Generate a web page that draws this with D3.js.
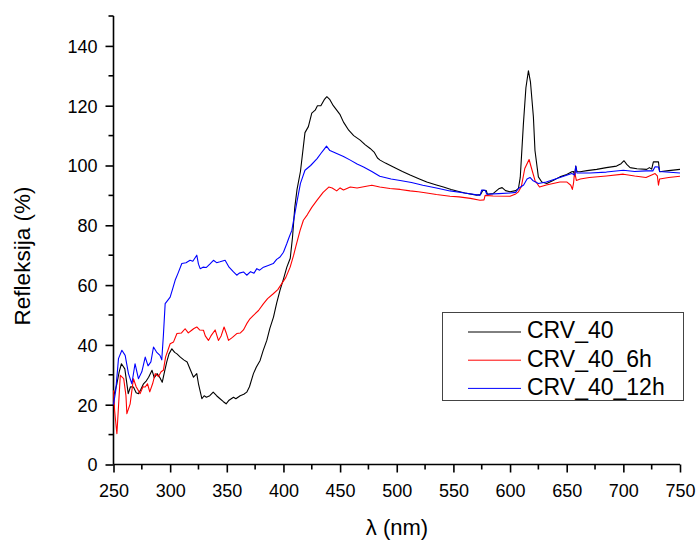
<!DOCTYPE html>
<html><head><meta charset="utf-8">
<script src="https://cdn.jsdelivr.net/npm/d3@7"></script>
<style>body{margin:0;background:#fff}svg{display:block}text{font-family:"Liberation Sans",Arial,sans-serif}</style>
</head><body><svg id="c" width="697" height="541"></svg>
<script>
const seriesNames = ["CRV_40","CRV_40_6h","CRV_40_12h"];
const seriesColors = ["#000000","#ff0000","#0000ff"];
const xTicks = [250,300,350,400,450,500,550,600,650,700,750];
const yTicks = [0,20,40,60,80,100,120,140];

const blackWl = [250,253,255,257,260,263,265,267.6,270,272,274,276.5,279,281,284,286,288.5,291,293,295,297,299,301.5,304,306,309,312,315,318,320.6,323.5,325,328,330,332,335,338,341,344,347,349.4,352,355.9,358,361.8,365,367.6,370,373.5,376,379.4,382,385.3,388,391.2,394,397,400,403,406,408,410,412,415,419,422,425,428,430,433,436,438.3,441,444,447,450,453,457.6,462,467.7,472,476.5,480,483,485.3,490,497,505,511.8,520,526.5,535,541.2,548,553,560,570.6,574,576,579,580,585,590,593,596,600,605,607.4,609,611.8,614,616.2,618,620.6,622,625,628,632.4,638,644,650,654.5,656,657,658,659,661.8,668,676.5,685,694,698,700.6,703,706,712,720.6,723,725,726.5,731,732,740,750];
const blackVal = [22.5,27,31,33.7,32,23.7,26,25.9,24,23.7,25,27,28,29.2,31.5,29,30.4,29,27.5,31,34.3,37,38.7,37.5,37,35.9,35,34.3,31.5,29.2,30.4,27,22,23,22.5,23,24.2,23,22,21,20.3,21.5,22.5,22,23,23.5,24.2,26,30.4,32.5,34.8,38,41.5,45.5,49.3,54,58.3,62,66,69,76,86,92,98,111,113,117.5,118.5,120,120,122,123,122,120,118.5,117,114.5,111.8,110,108.5,107,105.7,104.5,102.5,101.8,100.8,99.5,98,96.8,95.5,94.5,93.5,92.8,92,91.5,90.8,90.1,90.3,91.7,91.6,90.4,90.6,92.2,92.6,91.6,91.2,91.6,92.3,96,114,126,131.7,128,116.3,105,96.2,94.5,94,95,96.2,97,97.9,98,96.5,99.8,98,97.9,98.3,98.7,99.3,99.8,100.6,101.6,100.4,99.3,98.9,98.7,99.3,98.8,101.2,101.2,97.9,98.3,98.7];

const redWl = [250,251,252.4,253,254.5,256,259,261,261.8,264.7,267.6,270,273.5,276,278,280,282,284.5,286.8,289.7,292,294,296,300,303,306,310,313.2,316,319,321,323.5,326,329.4,331,333.8,336,339.7,342.6,345,347.6,349.5,351.5,355,358.8,362,364.7,367.6,370,373.5,378,382.4,386,391,395,398.5,402,405.9,409,411,414.7,417.6,421,425,429.7,435,440,443,447,450,453,459,465,472,478,485,494,503,511.8,519,526.5,535,547,555,565,573.5,577,578,585,600,605,607.4,610,613,616.8,619,622,626,632,644,650,653.6,655,656,657,658.5,662,670,685,700,710,720,728,730,731,732,740,750];
const redVal = [24.8,18,12.5,10.3,20,29.8,28.7,23,17,20.3,28.7,26,23.7,26,25.9,27,24.3,27,30.4,29.4,31,31.5,36,40.4,41,43.8,44,45.4,44,44.9,45.5,46,45,44.9,43,41.5,43,45,41.5,43,46,44,41.5,42.5,43.8,44,45,47.1,48.5,49.9,51.5,53.8,55.5,57.1,58.5,60.5,62.5,66,70,73,78.3,81.7,83.5,86,88.4,91,92.8,92.5,91.5,92.5,91.8,92.8,92.5,93,93.4,92.8,92.3,92,91.5,91.2,90.8,90.3,89.7,89.5,89,88.4,88.5,90,89.8,89.7,90.5,91.2,93,99,102,99,95,92.8,93.5,94.5,94.5,93.4,92,94,97.9,95,95.5,96,96.5,97.1,96.5,96,97.3,96.5,93.4,95.5,96,96.4];

const blueWl = [250,252,254.4,257.4,260.3,263.2,266.2,269,272,275,278,280.5,283,285.3,288,291,292.6,294,295.6,298,300,302,304.4,307,310.3,314,317.6,320,323.5,325,326.5,329,332,335,338.2,341,344,348.5,352,355.9,358.8,361,364.7,367.6,371,374,376.5,379,382.4,386,391,394,397,400,403,405,407.4,409,412,415,419,424,429.7,433,436,438,441,444,447,453,459,465,470.7,478,485,495,503,513,523,535,547,560,573.5,575,578,579.5,590,600,605,607.4,612,615,617.6,620,625,632,644,654.5,657,658,659,670.6,685,700,710,720,726,728,731,732,750];
const blueVal = [20,24.8,35.4,38.2,36.5,30.4,27,33.7,28.7,31,35.9,33,34.3,39.3,37.6,36.5,35,43,53.8,55,56,58.5,61.6,64,67.2,67.5,68.3,68,70,67,65.5,66,65.9,67,68.3,67.5,67.8,68.3,66,64.4,63.3,64,64.4,63.3,64.5,64,65.5,65,66,66.5,67.2,68.6,69.4,71,73.9,76,78.3,81.7,88,94,98.4,100,102.3,104,105.5,106.5,105,104.5,104,103,101.8,100.5,99.5,98,96.4,95.5,95,94.3,93.4,92.5,91.5,90.8,90,91.8,91.7,90.4,90.6,90.8,91,92.3,93.5,95.5,96,95,94,94.5,96,97.3,96.8,99.8,97.5,97.5,97.8,98.4,98,98.2,98.2,99.6,99.5,98,97.5];

const svg = d3.select("#c");
const x = d3.scaleLinear().domain([250,750]).range([113.5,680]);
const y = d3.scaleLinear().domain([0,150]).range([464.5,16]);

const xMinor = d3.range(275,750,50);
const yMinor = d3.range(10,151,20);
const FONT = "Liberation Sans, Arial, sans-serif";

const gx = svg.append("g").attr("transform","translate(0,464.5)");
gx.call(d3.axisBottom(x).tickValues(xTicks).tickSize(8).tickFormat(d3.format("d")));
gx.append("g").selectAll("line").data(xMinor).join("line")
  .attr("x1",d=>x(d)).attr("x2",d=>x(d)).attr("y1",0).attr("y2",5).attr("stroke","#000").attr("stroke-width",1.6);
gx.select(".domain").attr("d",`M${x(250)},0H${x(750)}`);

const gy = svg.append("g").attr("transform","translate(113.5,0)");
gy.call(d3.axisLeft(y).tickValues(yTicks).tickSize(8).tickFormat(d3.format("d")));
gy.append("g").selectAll("line").data(yMinor).join("line")
  .attr("y1",d=>y(d)).attr("y2",d=>y(d)).attr("x1",0).attr("x2",-5).attr("stroke","#000").attr("stroke-width",1.6);
gy.select(".domain").attr("d",`M0,${y(0)}V${y(150)}`);

svg.selectAll(".domain").attr("stroke","#000").attr("stroke-width",1.6);
svg.selectAll(".tick line").attr("stroke","#000").attr("stroke-width",1.6);
gx.selectAll(".tick text").attr("font-size",18).attr("fill","#000").attr("y",32.5).attr("dy",0).attr("font-family",FONT);
gy.selectAll(".tick text").attr("font-size",18).attr("fill","#000").attr("x",-16).attr("dy","0.35em").attr("font-family",FONT);

const line = d3.line().x(d=>x(d[0])).y(d=>y(d[1]));
const data = [
  {wl:blackWl, v:blackVal},
  {wl:redWl, v:redVal},
  {wl:blueWl, v:blueVal}
];
[0,1,2].forEach(i=>{
  const pts = data[i].wl.map((w,k)=>[w,data[i].v[k]]);
  svg.append("path").datum(pts).attr("d",line).attr("fill","none")
    .attr("stroke",seriesColors[i]).attr("stroke-width",1.1).attr("stroke-linejoin","round");
});

// axis titles
svg.append("text").attr("x",397).attr("y",535).attr("text-anchor","middle").attr("font-size",22).text("λ (nm)");
svg.append("text").attr("transform","translate(30,256) rotate(-90)").attr("text-anchor","middle").attr("font-size",22.5).text("Refleksija (%)");

// legend
const lg = svg.append("g");
lg.append("rect").attr("x",442.5).attr("y",312.5).attr("width",241).attr("height",88)
  .attr("fill","#fff").attr("stroke","#444").attr("stroke-width",1);
seriesNames.forEach((n,i)=>{
  const yy = 332 + i*28.2;
  lg.append("line").attr("x1",468).attr("x2",521).attr("y1",yy).attr("y2",yy).attr("stroke",seriesColors[i]).attr("stroke-width",1);
  lg.append("text").attr("x",527).attr("y",338.3 + i*28.3).attr("font-size",23).text(n);
});
</script></body></html>
